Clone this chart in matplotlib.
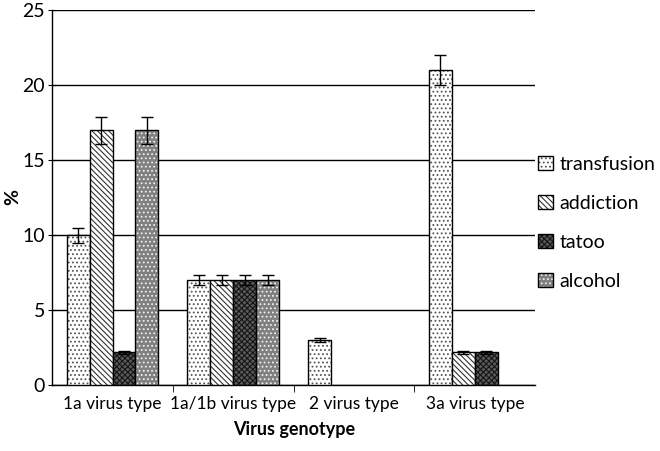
import matplotlib
matplotlib.use("Agg")
import matplotlib.pyplot as plt
import numpy as np
from matplotlib.patches import Patch

categories = ["1a virus type", "1a/1b virus type", "2 virus type", "3a virus type"]
series = ["transfusion", "addiction", "tatoo", "alcohol"]
transfusion = [10, 7, 3, 21]
addiction = [17, 7, 0, 2.2]
tatoo = [2.2, 7, 0, 2.2]
alcohol = [17, 7, 0, 0]
err_transfusion = [0.5, 0.35, 0.15, 1.0]
err_addiction = [0.9, 0.35, 0, 0.1]
err_tatoo = [0.1, 0.35, 0, 0.1]
err_alcohol = [0.9, 0.35, 0, 0]

values = [transfusion, addiction, tatoo, alcohol]
errors = [err_transfusion, err_addiction, err_tatoo, err_alcohol]
styles = [
    dict(fc="white", hatch="....", hc="#555555"),
    dict(fc="white", hatch="\\\\\\\\\\\\", hc="#333333"),
    dict(fc="#5a5a5a", hatch="xxxxxx", hc="#151515"),
    dict(fc="#808080", hatch="....", hc="#f0f0f0"),
]

plt.rcParams['font.family'] = ['Lato', 'DejaVu Sans']
plt.rcParams['hatch.linewidth'] = 0.8
fig = plt.figure(figsize=(6.6, 4.51), dpi=100)
ax = fig.add_axes([0.079, 0.146, 0.732, 0.831])

x = np.arange(len(categories))
w = 0.19
handles = []
for i, (vals, errs, st) in enumerate(zip(values, errors, styles)):
    pos = x + (i - 1.5) * w
    mask = [v > 0 for v in vals]
    pv = [p for p, m in zip(pos, mask) if m]
    vv = [v for v, m in zip(vals, mask) if m]
    ee = [e for e, m in zip(errs, mask) if m]
    b = ax.bar(pv, vv, w, facecolor=st["fc"], hatch=st["hatch"], edgecolor="black",
               linewidth=1.0, zorder=3)
    for r in b:
        r._hatch_color = matplotlib.colors.to_rgba(st["hc"])
    ax.errorbar(pv, vv, yerr=ee, fmt="none", ecolor="black", elinewidth=1.0,
                capsize=4, capthick=1.0, zorder=4)
    h = Patch(facecolor=st["fc"], hatch=st["hatch"], edgecolor="black", linewidth=1.0)
    h._hatch_color = matplotlib.colors.to_rgba(st["hc"])
    handles.append(h)

ax.set_xlim(-0.5, len(categories) - 0.5)
ax.set_ylim(0, 25)
ax.set_yticks([0, 5, 10, 15, 20, 25])
ax.yaxis.grid(True, color="black", linewidth=1.0, zorder=0)
ax.set_axisbelow(True)
for s in ["top", "right"]:
    ax.spines[s].set_visible(False)
ax.spines["left"].set_linewidth(1.0)
ax.spines["bottom"].set_linewidth(1.0)
ax.tick_params(axis="y", direction="inout", length=6, labelsize=14, pad=2)
ax.set_xticks(x)
ax.set_xticklabels(categories, fontsize=12.5)
ax.tick_params(axis="x", length=0, pad=8)
ax.set_xticks(np.arange(0.5, len(categories) - 0.5, 1), minor=True)
ax.tick_params(axis="x", which="minor", direction="out", length=5)
ax.set_xlabel("Virus genotype", fontsize=13, fontweight="bold", labelpad=6)
fig.text(13 / 660, 1 - 197 / 451, "%", rotation=90, fontsize=14, fontweight="bold",
         ha="center", va="center")

leg = fig.legend(handles, series, loc="upper left", bbox_to_anchor=(0.815, 0.655),
                 frameon=False, fontsize=14, handlelength=0.8, handleheight=0.8,
                 handletextpad=0.3, labelspacing=1.12, borderaxespad=0, borderpad=0)
fig.savefig("out.png", dpi=100)
